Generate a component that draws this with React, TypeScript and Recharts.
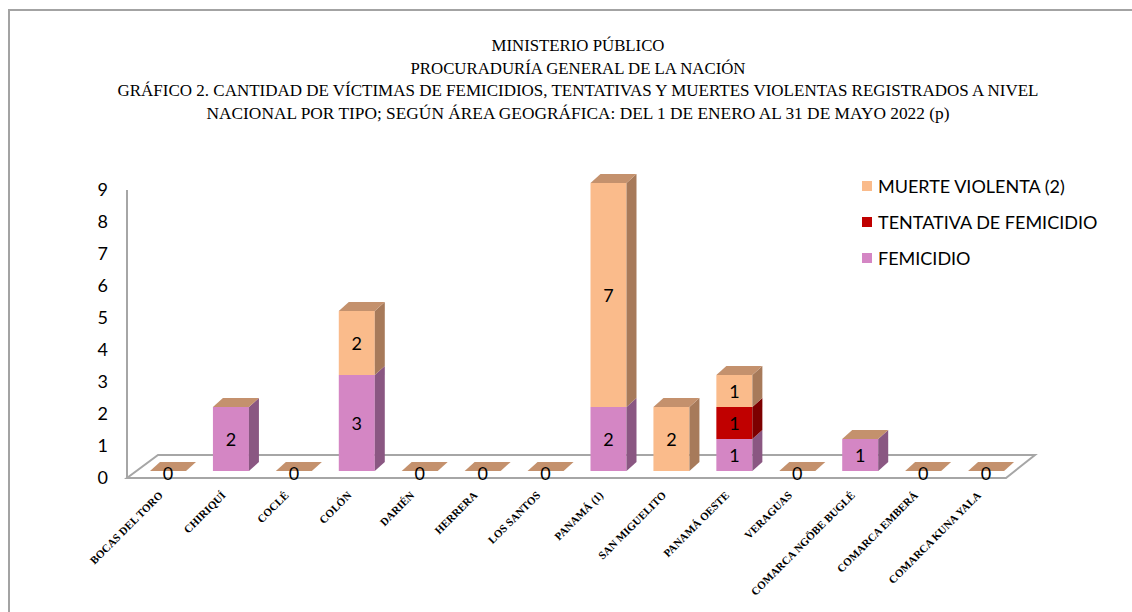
import { BarChart, Bar, XAxis, YAxis, LabelList } from 'recharts';

// datos del gráfico
const categories = [
  'BOCAS DEL TORO',
  'CHIRIQUÍ',
  'COCLÉ',
  'COLÓN',
  'DARIÉN',
  'HERRERA',
  'LOS SANTOS',
  'PANAMÁ (1)',
  'SAN MIGUELITO',
  'PANAMÁ OESTE',
  'VERAGUAS',
  'COMARCA NGÖBE BUGLÉ',
  'COMARCA EMBERÁ',
  'COMARCA KUNA YALA',
];
const femicidio = [0, 2, 0, 3, 0, 0, 0, 2, 0, 1, 0, 1, 0, 0];
const tentativa = [0, 0, 0, 0, 0, 0, 0, 0, 0, 1, 0, 0, 0, 0];
const muerteViolenta = [0, 0, 0, 2, 0, 0, 0, 7, 2, 1, 0, 0, 0, 0];
const yTicks = [0, 1, 2, 3, 4, 5, 6, 7, 8, 9];
const titleLines = [
  'MINISTERIO PÚBLICO',
  'PROCURADURÍA GENERAL DE LA NACIÓN',
  'GRÁFICO 2. CANTIDAD DE VÍCTIMAS DE FEMICIDIOS, TENTATIVAS Y MUERTES VIOLENTAS REGISTRADOS A NIVEL',
  'NACIONAL POR TIPO; SEGÚN ÁREA GEOGRÁFICA:  DEL 1 DE ENERO AL 31 DE MAYO 2022 (p)',
];
const legendNames = ['MUERTE VIOLENTA (2)', 'TENTATIVA DE FEMICIDIO', 'FEMICIDIO'];

const totals = categories.map((_, i) => femicidio[i] + tentativa[i] + muerteViolenta[i]);

const data = categories.map((name, i) => ({
  name,
  femicidio: femicidio[i],
  tentativa: tentativa[i],
  muerte: muerteViolenta[i],
}));

// colores (cara frontal / lateral)
const FEM = { front: '#d486c4', side: '#8a5782' };
const TEN = { front: '#c00000', side: '#7d0000' };
const MUE = { front: '#fabb8b', side: '#a77a5a' };
const TOP = '#c4916d';
const legendColors = [MUE.front, TEN.front, FEM.front];

const DX = 10;
const DY = 9;
const NUM_FONT = 'Lato, "Open Sans", sans-serif';

function make3DShape(front: string, side: string, drawTop: boolean) {
  return (props: any) => {
    const { x, y, width } = props;
    const h = Math.max(0, props.height || 0);
    return (
      <g>
        {h > 0 && <rect x={x} y={y} width={width} height={h} fill={front} />}
        {h > 0 && (
          <polygon
            points={`${x + width},${y + h} ${x + width},${y} ${x + width + DX},${y - DY} ${x + width + DX},${y + h - DY}`}
            fill={side}
          />
        )}
        {drawTop && (
          <polygon
            points={`${x},${y} ${x + DX},${y - DY} ${x + width + DX},${y - DY} ${x + width},${y}`}
            fill={TOP}
          />
        )}
      </g>
    );
  };
}

function makeLabel(values: number[], showEmptyZero: boolean) {
  return (props: any) => {
    const vb = props.viewBox || props;
    const { x, y, width, height } = vb;
    const i = props.index;
    const v = values[i];
    if (v > 0) {
      return (
        <text x={x + width / 2} y={y + height / 2} textAnchor="middle" dominantBaseline="central"
          fontFamily={NUM_FONT} fontSize={18} fill="#000">
          {v}
        </text>
      );
    }
    if (showEmptyZero && totals[i] === 0) {
      return (
        <text x={x + width / 2} y={y + 2} textAnchor="middle" dominantBaseline="central"
          fontFamily={NUM_FONT} fontSize={18} fill="#000">
          0
        </text>
      );
    }
    return null;
  };
}

const YTick = ({ x, y, payload }: any) => (
  <text x={x - 29} y={y + 6} textAnchor="end" dominantBaseline="central"
    fontFamily={NUM_FONT} fontSize={18} fill="#000">
    {payload.value}
  </text>
);

const XTick = ({ x, y, payload }: any) => (
  <text transform={`translate(${x - 5},${y + 25}) rotate(-45)`} textAnchor="end"
    fontFamily='"Liberation Serif", serif' fontWeight="bold" fontSize={11} fill="#000">
    {payload.value}
  </text>
);

const titleY = [45, 68, 90, 113];
const titleW = [173, 335, 921, 743];

export default function App() {
  return (
    <div style={{ position: 'absolute', left: 0, top: 0, width: 1132, height: 612, overflow: 'hidden', background: '#fff' }}>
      <div style={{ position: 'absolute', left: 8, top: 9, width: 1200, height: 700, border: '2px solid #a3a3a3' }} />

      {/* piso y pared */}
      <svg width={1132} height={612} style={{ position: 'absolute', left: 0, top: 0 }}>
        <polygon points="127,478 1006,478 1035,455 158,455" fill="#fff" stroke="#a6a6a6" strokeWidth={2} />
        <line x1={127} y1={190} x2={127} y2={478} stroke="#a6a6a6" strokeWidth={2} />
        {titleLines.map((t, i) => (
          <text key={i} x={578} y={titleY[i]} textAnchor="middle" dominantBaseline="central"
            fontFamily='"Liberation Serif", serif' fontSize={17} fill="#000"
            textLength={titleW[i]} lengthAdjust="spacingAndGlyphs">
            {t}
          </text>
        ))}
      </svg>

      <div style={{ position: 'absolute', left: 0, top: 0 }}>
        <BarChart width={1132} height={612} data={data} margin={{ top: 183, right: 114, bottom: 21, left: 77 }}>
          <XAxis dataKey="name" interval={0} height={120} tickSize={0} tickMargin={0}
            axisLine={false} tickLine={false} tick={<XTick />} />
          <YAxis domain={[0, 9]} ticks={yTicks} width={60} tickSize={0} tickMargin={0}
            axisLine={false} tickLine={false} tick={<YTick />} />
          <Bar dataKey="femicidio" stackId="a" barSize={36} isAnimationActive={false}
            shape={make3DShape(FEM.front, FEM.side, false)}>
            <LabelList dataKey="femicidio" content={makeLabel(femicidio, false)} />
          </Bar>
          <Bar dataKey="tentativa" stackId="a" barSize={36} isAnimationActive={false}
            shape={make3DShape(TEN.front, TEN.side, false)}>
            <LabelList dataKey="tentativa" content={makeLabel(tentativa, false)} />
          </Bar>
          <Bar dataKey="muerte" stackId="a" barSize={36} isAnimationActive={false}
            shape={make3DShape(MUE.front, MUE.side, true)}>
            <LabelList dataKey="muerte" content={makeLabel(muerteViolenta, true)} />
          </Bar>
        </BarChart>
      </div>

      {/* leyenda */}
      <div style={{ position: 'absolute', left: 862, top: 168 }}>
        {legendNames.map((n, i) => (
          <div key={n} style={{ display: 'flex', alignItems: 'center', height: 36 }}>
            <div style={{ width: 10, height: 10, background: legendColors[i], marginRight: 6 }} />
            <span style={{ fontFamily: NUM_FONT, fontSize: 18, color: '#000', whiteSpace: 'nowrap' }}>{n}</span>
          </div>
        ))}
      </div>
    </div>
  );
}
